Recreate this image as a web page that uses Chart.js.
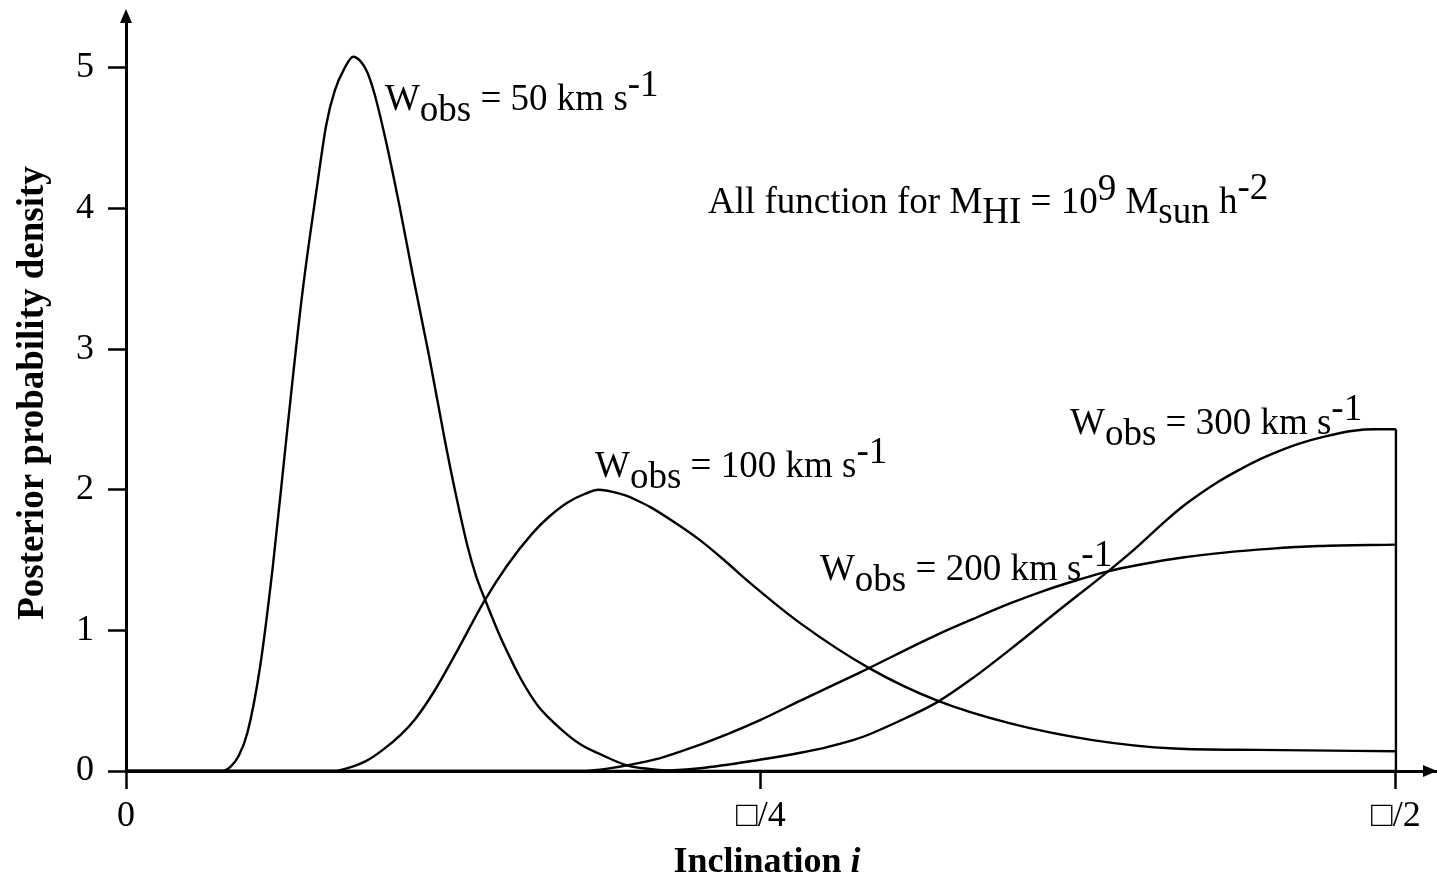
<!DOCTYPE html>
<html>
<head>
<meta charset="utf-8">
<script src="https://cdn.jsdelivr.net/npm/chart.js@4.4.1/dist/chart.umd.min.js"></script>
<style>
    html, body { margin: 0; padding: 0; background: #fff; }
    .chart-container { position: relative; width: 1437px; height: 879px; }
</style>
</head>
<body>
<div class="chart-container">
    <canvas id="myChart"></canvas>
</div>

<script>
    // inclination in degrees (0 .. 90 = pi/2), posterior density
    const w50X = [0, 6.7, 7.4, 8.0, 8.6, 9.5, 10.4, 11.4, 12.5, 13.5, 14.2, 14.8, 15.5, 16.1, 16.6, 17.1, 17.6, 18.4, 19.4, 20.3, 21.5, 22.6, 23.2, 24.2, 24.8, 25.4, 26.0, 26.5, 27.2, 27.9, 28.6, 29.3, 30.8, 32.2, 33.6, 35.5, 37.1, 39.3, 90];
    const w50Y = [0, 0, 0.03, 0.11, 0.27, 0.74, 1.45, 2.4, 3.4, 4.13, 4.6, 4.84, 5.0, 5.08, 5.05, 4.97, 4.82, 4.49, 4.01, 3.54, 2.94, 2.35, 2.05, 1.6, 1.39, 1.23, 1.08, 0.96, 0.81, 0.67, 0.55, 0.45, 0.3, 0.19, 0.12, 0.04, 0.015, 0, 0];

    const w100X = [0, 14.7, 16.0, 17.0, 18.2, 19.5, 20.5, 21.8, 23.5, 25.4, 27.0, 28.8, 30.0, 31.3, 32.5, 33.5, 34.5, 35.4, 36.3, 37.1, 39.0, 40.7, 42.5, 44.2, 47.8, 52.7, 57.5, 62.6, 68.5, 74.3, 80.2, 90];
    const w100Y = [0, 0, 0.03, 0.07, 0.15, 0.26, 0.37, 0.56, 0.86, 1.21, 1.46, 1.69, 1.81, 1.91, 1.97, 2.0, 1.985, 1.96, 1.92, 1.88, 1.76, 1.64, 1.49, 1.34, 1.05, 0.73, 0.5, 0.34, 0.22, 0.16, 0.15, 0.14];

    const w200X = [0, 32.2, 33.6, 35.5, 37.8, 40.2, 42.8, 44.9, 47.8, 52.0, 57.5, 60.0, 62.6, 65.0, 67.5, 69.6, 72.0, 75.0, 78.0, 81.0, 84.5, 90];
    const w200Y = [0, 0, 0.01, 0.04, 0.09, 0.17, 0.27, 0.36, 0.5, 0.7, 0.97, 1.08, 1.19, 1.28, 1.36, 1.42, 1.47, 1.52, 1.555, 1.58, 1.6, 1.61];

    const w300X = [0, 37.1, 40.7, 44.9, 47.8, 49.7, 52.0, 54.9, 57.5, 60.0, 62.6, 66.2, 69.6, 71.5, 73.8, 75.0, 76.1, 77.3, 78.5, 79.8, 81.1, 83.2, 85.0, 87.0, 88.5, 90];
    const w300Y = [0, 0, 0.02, 0.08, 0.13, 0.17, 0.235, 0.36, 0.49, 0.66, 0.86, 1.15, 1.42, 1.58, 1.79, 1.89, 1.97, 2.05, 2.12, 2.19, 2.25, 2.33, 2.38, 2.42, 2.43, 2.43];

    // the closing vertical line at pi/2
    const edgeX = [90, 90];
    const edgeY = [0, 2.43];

    const xTicks = [0, 45, 90];
    const xTickLabels = ['0', '\u25A1/4', '\u25A1/2'];
    const yTicks = [0, 1, 2, 3, 4, 5];

    const toPoints = (xs, ys) => xs.map((x, i) => ({ x: x, y: ys[i] }));

    function curve(xs, ys, smooth) {
        return {
            data: toPoints(xs, ys),
            showLine: true,
            borderColor: '#000',
            borderWidth: 2.4,
            pointRadius: 0,
            cubicInterpolationMode: smooth ? 'monotone' : 'default',
            tension: 0
        };
    }

    const serif = '"Liberation Serif", "Times New Roman", serif';

    // curve labels: [text, baseline shift]
    const notes = [
        { x: 18.35, y: 4.70, parts: [['W', 0], ['obs', 11], [' = 50 km s', 0], ['-1', -14]] },
        { x: 33.24, y: 2.09, parts: [['W', 0], ['obs', 11], [' = 100 km s', 0], ['-1', -14]] },
        { x: 49.18, y: 1.36, parts: [['W', 0], ['obs', 11], [' = 200 km s', 0], ['-1', -14]] },
        { x: 66.9, y: 2.40, parts: [['W', 0], ['obs', 11], [' = 300 km s', 0], ['-1', -14]] },
        { x: 41.24, y: 3.97, parts: [['All function for M', 0], ['HI', 10], [' = 10', 0], ['9', -13], [' M', 0], ['sun', 10], [' h', 0], ['-2', -14]] }
    ];

    const decorations = {
        id: 'decorations',
        afterDraw(chart) {
            const ctx = chart.ctx;
            const area = chart.chartArea;
            const xs = chart.scales.x, ys = chart.scales.y;
            ctx.save();
            ctx.fillStyle = '#000';

            // arrow heads
            ctx.beginPath();
            ctx.moveTo(area.left, area.top - 11);
            ctx.lineTo(area.left - 6, area.top + 3);
            ctx.lineTo(area.left + 6, area.top + 3);
            ctx.closePath();
            ctx.fill();
            ctx.beginPath();
            ctx.moveTo(area.right, area.bottom);
            ctx.lineTo(area.right - 14, area.bottom - 6);
            ctx.lineTo(area.right - 14, area.bottom + 6);
            ctx.closePath();
            ctx.fill();

            // labels
            ctx.font = '37px ' + serif;
            ctx.textAlign = 'left';
            ctx.textBaseline = 'alphabetic';
            notes.forEach(n => {
                let px = xs.getPixelForValue(n.x);
                const py = ys.getPixelForValue(n.y);
                n.parts.forEach(p => {
                    ctx.fillText(p[0], px, py + p[1]);
                    px += ctx.measureText(p[0]).width;
                });
            });

            // axis titles
            ctx.font = 'bold 37px ' + serif;
            ctx.save();
            ctx.translate(43, 393);
            ctx.rotate(-Math.PI / 2);
            ctx.textAlign = 'center';
            ctx.fillText('Posterior probability density', 0, 0);
            ctx.restore();

            const t1 = 'Inclination ';
            ctx.font = 'bold 36px ' + serif;
            const w1 = ctx.measureText(t1).width;
            ctx.font = 'bold italic 36px ' + serif;
            const w2 = ctx.measureText('i').width;
            const tx = 767 - (w1 + w2) / 2;
            ctx.font = 'bold 36px ' + serif;
            ctx.fillText(t1, tx, 872);
            ctx.font = 'bold italic 36px ' + serif;
            ctx.fillText('i', tx + w1, 872);
            ctx.restore();
        }
    };

    const ctx = document.getElementById('myChart').getContext('2d');
    const myChart = new Chart(ctx, {
        type: 'scatter',
        data: {
            datasets: [
                curve(w50X, w50Y, true),
                curve(w100X, w100Y, true),
                curve(w200X, w200Y, true),
                curve(w300X, w300Y, true),
                curve(edgeX, edgeY, false)
            ]
        },
        options: {
            responsive: true,
            maintainAspectRatio: false,
            animation: false,
            layout: { padding: { top: 20, right: 0, left: 0, bottom: 0 } },
            plugins: {
                legend: { display: false },
                tooltip: { enabled: false }
            },
            scales: {
                x: {
                    type: 'linear',
                    min: 0,
                    max: 92.91,
                    afterFit: s => { s.height = 108; s.paddingLeft = 0; s.paddingRight = 0; },
                    afterBuildTicks: s => { s.ticks = xTicks.map(v => ({ value: v })); },
                    border: { display: true, color: '#000', width: 3 },
                    grid: { drawOnChartArea: false, drawTicks: true, tickLength: 18, tickColor: '#000', tickWidth: 2.5 },
                    ticks: {
                        color: '#000',
                        padding: 6,
                        maxRotation: 0,
                        autoSkip: false,
                        font: { family: serif, size: 36 },
                        callback: v => xTickLabels[xTicks.indexOf(v)]
                    }
                },
                y: {
                    type: 'linear',
                    min: 0,
                    max: 5.341,
                    afterFit: s => { s.width = 126; s.paddingTop = 0; s.paddingBottom = 0; },
                    afterBuildTicks: s => { s.ticks = yTicks.map(v => ({ value: v })); },
                    border: { display: true, color: '#000', width: 3 },
                    grid: { drawOnChartArea: false, drawTicks: true, tickLength: 18, tickColor: '#000', tickWidth: 2.5 },
                    ticks: {
                        color: '#000',
                        padding: 14,
                        autoSkip: false,
                        font: { family: serif, size: 36 },
                        callback: v => String(v)
                    }
                }
            }
        },
        plugins: [decorations]
    });
</script>
</body>
</html>
